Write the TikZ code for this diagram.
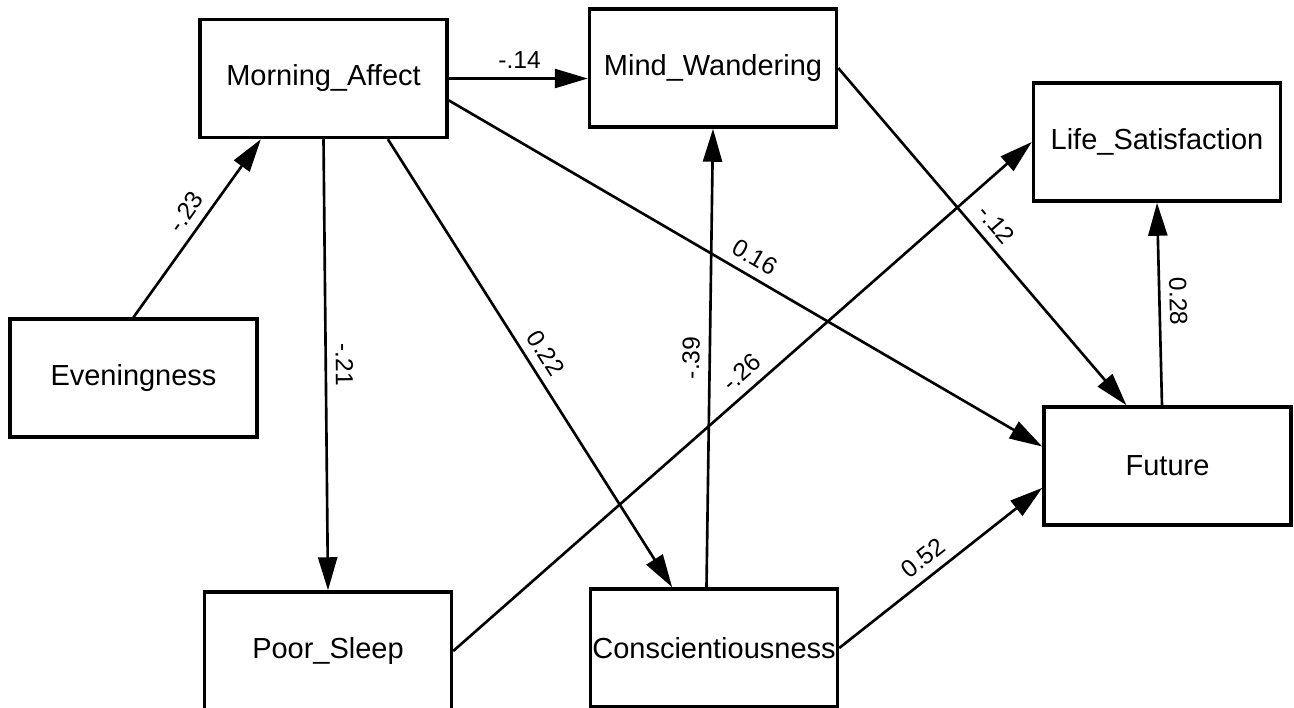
\documentclass[tikz,border=0pt]{standalone}
\usepackage{fontspec}
\setmainfont{Liberation Sans}
\usetikzlibrary{arrows.meta, calc}

\begin{document}
\begin{tikzpicture}[
    x=0.02cm, y=-0.02cm,
    box/.style={draw, line width=2pt, minimum width=4.94cm, minimum height=2.36cm, inner sep=0pt, font=\fontsize{16.5}{19}\selectfont},
    arr/.style={-{Triangle[length=6.6mm, width=3.8mm]}, line width=1.5pt},
    coef/.style={sloped, above, inner sep=5pt, font=\fontsize{14}{16}\selectfont},
]
\useasboundingbox (0,0) rectangle (1294,707);

\node[box] (morning) at (323.5,78.5) {Morning\_Affect};
\node[box] (mind) at (713,68) {Mind\_Wandering};
\node[box] (life) at (1157,142) {Life\_Satisfaction};
\node[box] (even) at (133.5,378) {Eveningness};
\node[box] (future) at (1167.5,466) {Future};
\node[box] (sleep) at (328,651) {Poor\_Sleep};
\node[box] (consc) at (714,648) {Conscientiousness};

\draw[arr] (even.north) -- node[coef, pos=0.53] {-.23} ($(morning.south west)!0.25!(morning.south east)$);
\draw[arr] (morning.east) -- node[coef, pos=0.51] {-.14} (morning.east -| mind.west);
\draw[arr] (morning.south) -- node[coef, pos=0.5] {-.21} (sleep.north);
\draw[arr] ($(morning.south west)!0.757!(morning.south east)$) -- node[coef, pos=0.5] {0.22} ($(consc.north west)!0.333!(consc.north east)$);
\draw[arr] ($(morning.north east)!0.68!(morning.south east)$) -- node[coef, pos=0.5] {0.16} ($(future.north west)!0.34!(future.south west)$);
\draw[arr] (mind.east) -- node[coef, pos=0.5] {-.12} ($(future.north west)!0.336!(future.north east)$);
\draw[arr] ($(consc.north west)!0.47!(consc.north east)$) -- node[coef, pos=0.5] {-.39} (mind.south);
\draw[arr] (sleep.east) -- node[coef, pos=0.52] {-.26} (life.west);
\draw[arr] (consc.east) -- node[coef, pos=0.47] {0.52} ($(future.north west)!0.68!(future.south west)$);
\draw[arr] ($(future.north west)!0.478!(future.north east)$) -- node[coef, pos=0.51] {0.28} (life.south);

\end{tikzpicture}
\end{document}
